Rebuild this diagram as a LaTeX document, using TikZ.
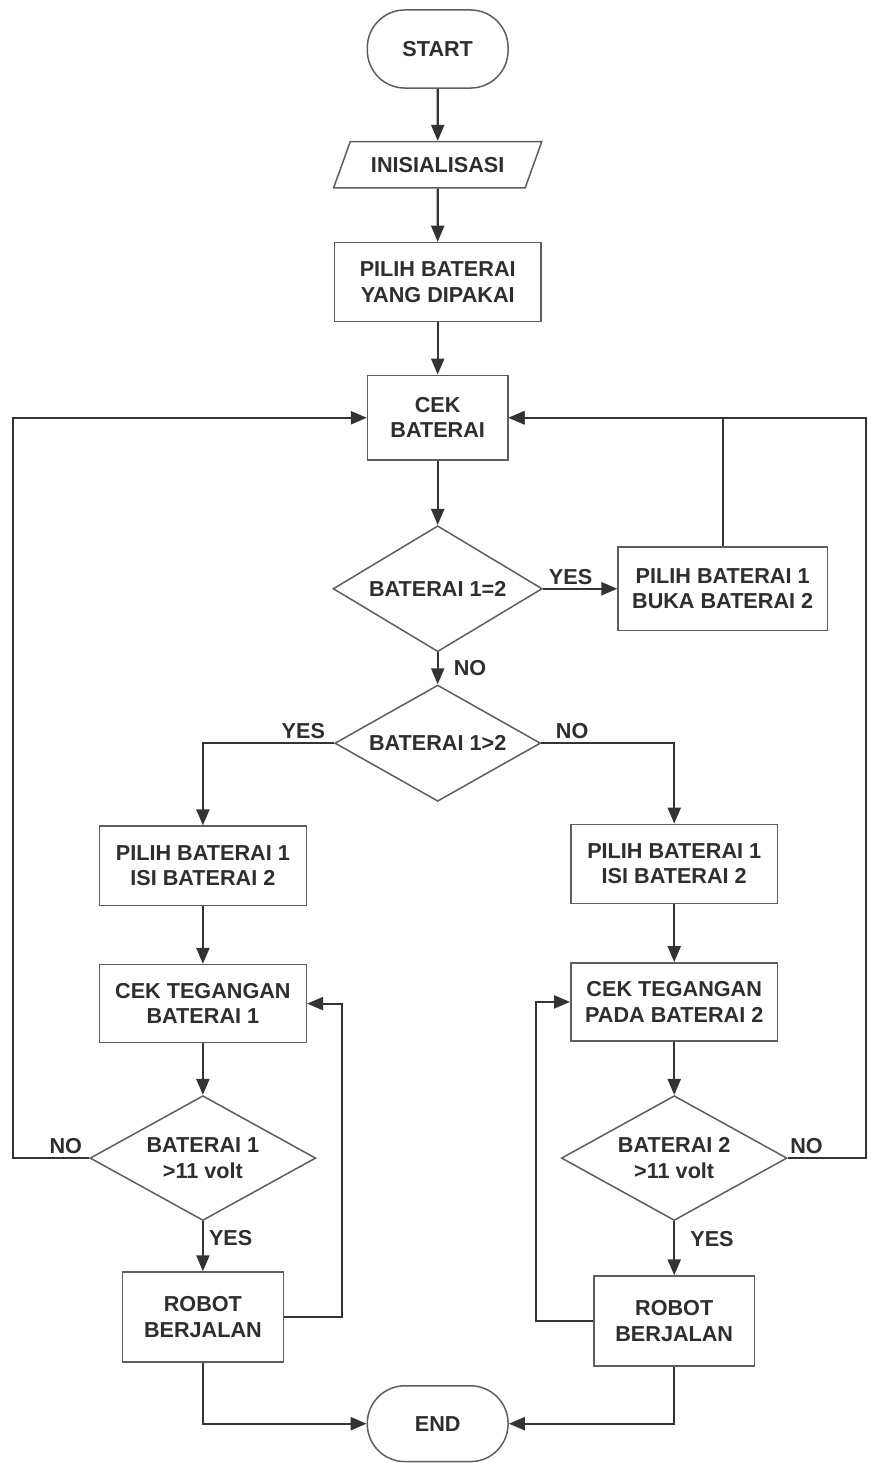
\documentclass[tikz,border=0pt]{standalone}
\usepackage{fontspec}
\setmainfont{Liberation Sans}
\usetikzlibrary{arrows.meta,shapes.geometric}
\definecolor{linegray}{HTML}{333333}
\definecolor{boxgray}{HTML}{5E5E5E}
\definecolor{textgray}{HTML}{2E2E2E}

\begin{document}
\begin{tikzpicture}[>=Latex,
  shp/.style={draw=boxgray,line width=0.75pt,align=center,inner sep=1pt,text=textgray,
    font=\fontsize{10.8}{12.6}\selectfont\bfseries},
  term/.style={shp,rounded corners=0.66cm,minimum width=2.47cm,minimum height=1.37cm},
  io/.style={shp,trapezium,trapezium left angle=56,trapezium right angle=124,
    trapezium stretches=true,minimum width=3.67cm,minimum height=0.81cm},
  proc/.style={shp,minimum width=3.63cm,minimum height=1.39cm},
  dec/.style={shp,diamond,aspect=1.7,minimum width=3.67cm,minimum height=2.21cm},
  a/.style={-{Triangle[length=8pt,width=6.5pt]},line width=1.1pt,linegray},
  lab/.style={font=\fontsize{10.8}{12.6}\selectfont\bfseries,text=textgray,inner sep=1.5pt}]
\useasboundingbox (0,0) rectangle (15.23,-25.67);
\node[term] (start) at (7.68,-0.86) {START};
\node[io] (ini) at (7.68,-2.89) {INISIALISASI};
\node[proc] (pilih) at (7.68,-4.95) {PILIH BATERAI\\YANG DIPAKAI};
\node[proc,minimum width=2.46cm,minimum height=1.49cm] (cek) at (7.68,-7.33) {CEK\\BATERAI};
\node[dec] (d1) at (7.68,-10.33) {BATERAI 1=2};
\node[proc,minimum width=3.67cm,minimum height=1.47cm] (buka) at (12.68,-10.33) {PILIH BATERAI 1\\BUKA BATERAI 2};
\node[dec,minimum width=3.61cm,minimum height=2.04cm] (d2) at (7.68,-13.04) {BATERAI 1>2};
\node[proc] (isi1) at (3.56,-15.19) {PILIH BATERAI 1\\ISI BATERAI 2};
\node[proc] (isi2) at (11.83,-15.16) {PILIH BATERAI 1\\ISI BATERAI 2};
\node[proc,minimum height=1.37cm] (teg1) at (3.56,-17.61) {CEK TEGANGAN\\BATERAI 1};
\node[proc,minimum height=1.37cm] (teg2) at (11.83,-17.58) {CEK TEGANGAN\\PADA BATERAI 2};
\node[dec,minimum width=3.96cm,minimum height=2.19cm] (v1) at (3.56,-20.32) {BATERAI 1\\>11 volt};
\node[dec,minimum width=3.96cm,minimum height=2.19cm] (v2) at (11.83,-20.32) {BATERAI 2\\>11 volt};
\node[proc,minimum width=2.82cm,minimum height=1.58cm] (jalan1) at (3.56,-23.11) {ROBOT\\BERJALAN};
\node[proc,minimum width=2.82cm,minimum height=1.58cm] (jalan2) at (11.83,-23.18) {ROBOT\\BERJALAN};
\node[term,minimum height=1.33cm] (end) at (7.68,-24.98) {END};
\coordinate (lrail) at (0.23,-14);
\coordinate (rrail) at (15.19,-14);
\coordinate (lback) at (6.0,-20);
\coordinate (rback) at (9.40,-20);
% main column
\draw[a] (start)--(ini); \draw[a] (ini)--(pilih); \draw[a] (pilih)--(cek); \draw[a] (cek)--(d1);
\draw[a] (d1)--node[lab,above,pos=0.37]{YES}(buka);
\draw[a] (buka.north) |- (cek.east);
\draw[a] (d1)--node[lab,right,xshift=6pt]{NO}(d2);
\draw[a] (d2.west) -| node[lab,above,pos=0.117]{YES} (isi1.north);
\draw[a] (d2.east) -| node[lab,above,pos=0.116]{NO} (isi2.north);
% left branch
\draw[a] (isi1)--(teg1); \draw[a] (teg1)--(v1);
\draw[a] (v1)--node[lab,right,pos=0.33,xshift=1pt]{YES}(jalan1);
\draw[a] (v1.west) -| node[lab,above,pos=0.154]{NO} (lrail) |- (cek.west);
\draw[a] (jalan1.east) -| (lback) |- (teg1.east);
\draw[a] (jalan1.south) |- (end.west);
% right branch
\draw[a] (isi2)--(teg2); \draw[a] (teg2)--(v2);
\draw[a] (v2)--node[lab,right,pos=0.33,xshift=6pt]{YES}(jalan2);
\draw[a] (v2.east) -| node[lab,above,pos=0.12]{NO} (rrail) |- (cek.east);
\draw[a] (jalan2.west) -| (rback) |- (teg2.west);
\draw[a] (jalan2.south) |- (end.east);
\end{tikzpicture}
\end{document}
